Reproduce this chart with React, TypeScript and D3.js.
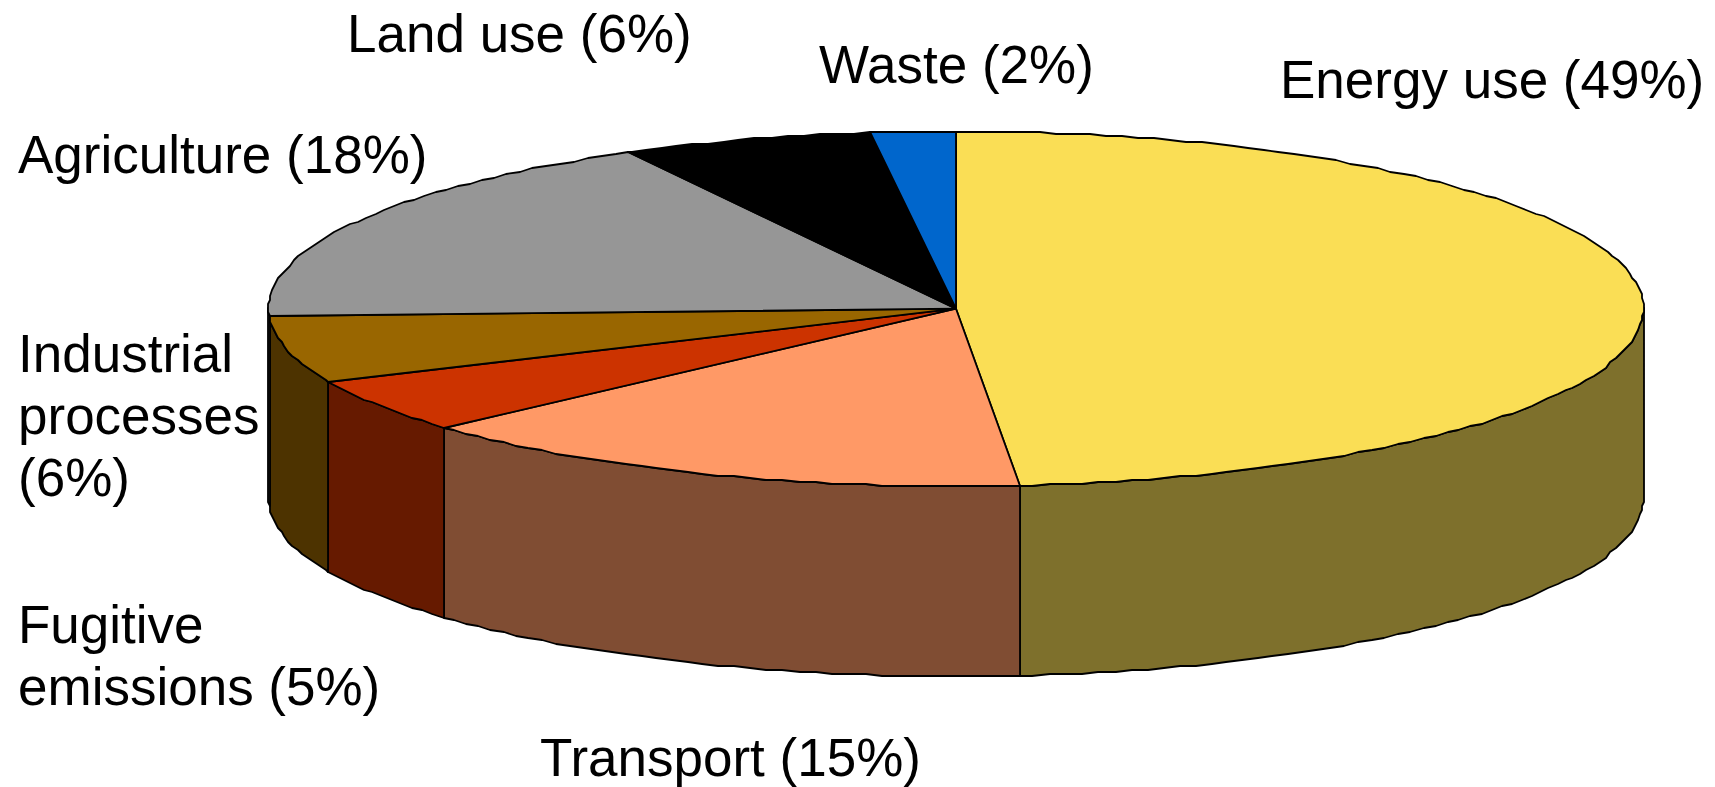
import * as d3 from "d3";

// Greenhouse gas emissions by sector, clockwise from twelve o'clock.
const sectors = ["Energy use", "Transport", "Fugitive emissions", "Industrial processes", "Agriculture", "Land use", "Waste"];
const shares = [49, 15, 5, 6, 18, 6, 2];
const topColors = ["#FADE55", "#FF9966", "#CC3300", "#996600", "#969696", "#000000", "#0066CC"];
const sideColors = ["#7E702C", "#804D33", "#661A00", "#4D3300", "#4B4B4B", "#000000", "#003366"];

const labelLines = [
  ["Energy use (49%)"],
  ["Transport (15%)"],
  ["Fugitive", "emissions (5%)"],
  ["Industrial", "processes", "(6%)"],
  ["Agriculture (18%)"],
  ["Land use (6%)"],
  ["Waste (2%)"],
];
const labelX = [1280, 540, 18, 18, 18, 347, 819];
const labelY = [98, 776, 643, 372, 173, 52, 83];
const lineStep = 62;

const WIDTH = 1715;
const HEIGHT = 787;
const CX = 956;
const CY = 308.7;
const RX = 687.5;
const RY = 177.5;
const DEPTH = 190;
const GRID = 2; // rim vertices sit on a coarse device grid, as in old metafile output
const STEP = (1.4 * Math.PI) / 180;

const x = d3.scaleLinear().domain([-1, 1]).range([CX - RX, CX + RX]);
const y = d3.scaleLinear().domain([-1, 1]).range([CY - RY, CY + RY]);

const snap = (v: number) => Math.round(v / GRID) * GRID;
const rimPoint = (a: number): [number, number] => [snap(x(Math.sin(a))), snap(y(-Math.cos(a)))];

function rim(a0: number, a1: number): [number, number][] {
  const inner = d3.range(Math.ceil(a0 / STEP + 0.2), a1 / STEP - 0.2).map((i) => i * STEP);
  const angles = [a0, ...inner, a1];
  return angles.map(rimPoint);
}

const line = d3.line();
const arcs = d3
  .pie<number>()
  .sort(null)
  .startAngle(0)
  .endAngle(2 * Math.PI)(shares);

export default function App() {
  const frontFrom = Math.PI / 2;
  const frontTo = (3 * Math.PI) / 2;
  return (
    <svg
      width={WIDTH}
      height={HEIGHT}
      viewBox={`0 0 ${WIDTH} ${HEIGHT}`}
      style={{ position: "absolute", left: 0, top: 0, background: "#fff" }}
    >
      <g stroke="#000" strokeWidth={1.8} strokeLinejoin="round">
        {arcs.map((d, i) => {
          const a0 = Math.max(d.startAngle, frontFrom);
          const a1 = Math.min(d.endAngle, frontTo);
          if (a1 <= a0) return null;
          const upper = rim(a0, a1);
          const lower = upper.map(([px, py]) => [px, py + DEPTH] as [number, number]).reverse();
          return <path key={sectors[i]} d={line([...upper, ...lower]) + "Z"} fill={sideColors[i]} />;
        })}
        {arcs.map((d, i) => {
          const centre: [number, number] = [x(0), y(0)];
          return (
            <path
              key={sectors[i]}
              d={line([centre, ...rim(d.startAngle, d.endAngle)]) + "Z"}
              fill={topColors[i]}
            />
          );
        })}
      </g>
      <g fontFamily="'Liberation Sans', Arial, sans-serif" fontSize={53} fill="#000">
        {labelLines.map((lines, i) =>
          lines.map((t, j) => (
            <text key={t} x={labelX[i]} y={labelY[i] + j * lineStep}>
              {t}
            </text>
          ))
        )}
      </g>
    </svg>
  );
}
